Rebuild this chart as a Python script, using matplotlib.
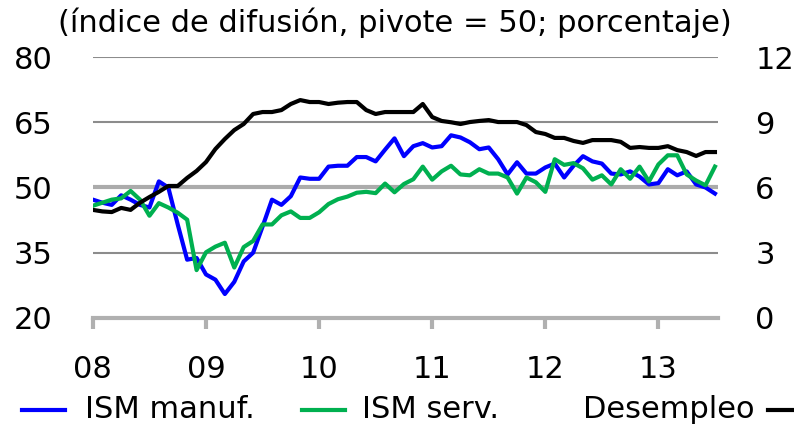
import matplotlib
matplotlib.use('Agg')
import matplotlib.pyplot as plt
from matplotlib.lines import Line2D

plt.rcParams['font.family'] = ['DejaVu Sans']

# monthly data, Jan 2008 .. Jul 2013
ism_manuf = [47.2, 46.5, 46.0, 48.2, 47.2, 46.0, 45.4, 51.4, 50.0, 41.5,
             33.4, 33.8, 30.0, 28.8, 25.5, 28.3, 33.0, 35.0, 41.0, 47.2,
             46.0, 48.0, 52.3, 52.0, 52.0, 54.8, 55.0, 55.0, 57.0, 57.0,
             56.0, 58.7, 61.3, 57.2, 59.5, 60.2, 59.2, 59.5, 62.0, 61.5,
             60.4, 58.8, 59.2, 56.5, 53.0, 55.8, 53.2, 53.2, 54.6, 55.5,
             52.3, 55.0, 57.2, 56.0, 55.5, 53.2, 53.0, 53.7, 52.5, 50.7,
             51.0, 54.2, 52.8, 53.7, 50.7, 50.0, 48.6]
ism_serv = [45.8, 46.5, 47.2, 47.5, 49.2, 47.2, 43.5, 46.4, 45.4, 44.2,
            42.6, 31.0, 35.1, 36.4, 37.3, 31.6, 36.3, 37.7, 41.5, 41.5,
            43.6, 44.5, 43.0, 43.0, 44.3, 46.2, 47.3, 47.9, 48.8, 49.0,
            48.7, 50.9, 48.9, 50.8, 51.9, 54.8, 51.8, 53.7, 55.0, 53.0,
            52.8, 54.2, 53.2, 53.2, 52.3, 48.6, 52.3, 51.2, 49.0, 56.5,
            55.2, 55.6, 54.4, 51.8, 52.8, 50.7, 54.2, 52.0, 54.8, 51.4,
            55.3, 57.4, 57.4, 53.0, 51.6, 50.5, 54.8]
desempleo = [4.97, 4.90, 4.87, 5.06, 4.97, 5.30, 5.56, 5.80, 6.07, 6.07,
             6.44, 6.76, 7.17, 7.77, 8.23, 8.64, 8.92, 9.38, 9.47, 9.47,
             9.56, 9.84, 10.02, 9.93, 9.93, 9.84, 9.90, 9.93, 9.93, 9.56,
             9.38, 9.47, 9.47, 9.47, 9.47, 9.84, 9.24, 9.06, 9.00, 8.92,
             9.01, 9.06, 9.10, 9.01, 9.01, 9.01, 8.87, 8.55, 8.46, 8.28,
             8.28, 8.14, 8.05, 8.18, 8.18, 8.18, 8.10, 7.82, 7.86, 7.82,
             7.82, 7.90, 7.72, 7.63, 7.45, 7.63, 7.63]
months = list(range(len(ism_manuf)))
year_ticks = [0, 12, 24, 36, 48, 60]
year_labels = ['08', '09', '10', '11', '12', '13']
left_ticks = [20, 35, 50, 65, 80]
right_ticks = [0, 3, 6, 9, 12]

fs = 22
fig = plt.figure(figsize=(7.94, 4.32), dpi=100)
ax = fig.add_axes([0.117, 0.264, 0.787, 0.604])
ax2 = ax.twinx()

for v in [35, 65, 80]:
    ax.axhline(v, color='#8c8c8c', lw=1.5, zorder=0)
ax.axhline(50, color='#ababab', lw=3, zorder=0)

ax.plot(months, ism_manuf, color='#0000ff', lw=3, zorder=3)
ax.plot(months, ism_serv, color='#00b050', lw=3, zorder=3)
ax2.plot(months, desempleo, color='black', lw=3)

ax.set_xlim(0, 66.3)
ax.set_ylim(20, 80)
ax2.set_ylim(0, 12)

for a in (ax, ax2):
    for s in ['top', 'left', 'right', 'bottom']:
        a.spines[s].set_visible(False)
ax.spines['bottom'].set_visible(True)
ax.spines['bottom'].set_color('#b0b0b0')
ax.spines['bottom'].set_linewidth(3)

ax.set_xticks(year_ticks)
ax.set_xticklabels(year_labels, fontsize=fs)
ax.tick_params(axis='x', length=8, width=3, color='#b0b0b0', pad=19)
ax.set_yticks(left_ticks)
ax.set_yticklabels([str(t) for t in left_ticks], fontsize=fs)
ax.tick_params(axis='y', length=0, pad=29)
ax2.set_yticks(right_ticks)
ax2.set_yticklabels([str(t) for t in right_ticks], fontsize=fs)
ax2.tick_params(axis='y', length=0, pad=27)

fig.text(0.497, 0.948, '(índice de difusión, pivote = 50; porcentaje)',
         ha='center', va='center', fontsize=fs)

# legend
ly = 0.051
fig.add_artist(Line2D([0.028, 0.082], [ly, ly], color='#0000ff', lw=3))
fig.text(0.107, ly, 'ISM manuf.', ha='left', va='center', fontsize=fs)
fig.add_artist(Line2D([0.38, 0.435], [ly, ly], color='#00b050', lw=3))
fig.text(0.456, ly, 'ISM serv.', ha='left', va='center', fontsize=fs)
fig.text(0.734, ly, 'Desempleo', ha='left', va='center', fontsize=fs)
fig.add_artist(Line2D([0.967, 1.01], [ly, ly], color='black', lw=3))

fig.savefig('out.png', dpi=100)
